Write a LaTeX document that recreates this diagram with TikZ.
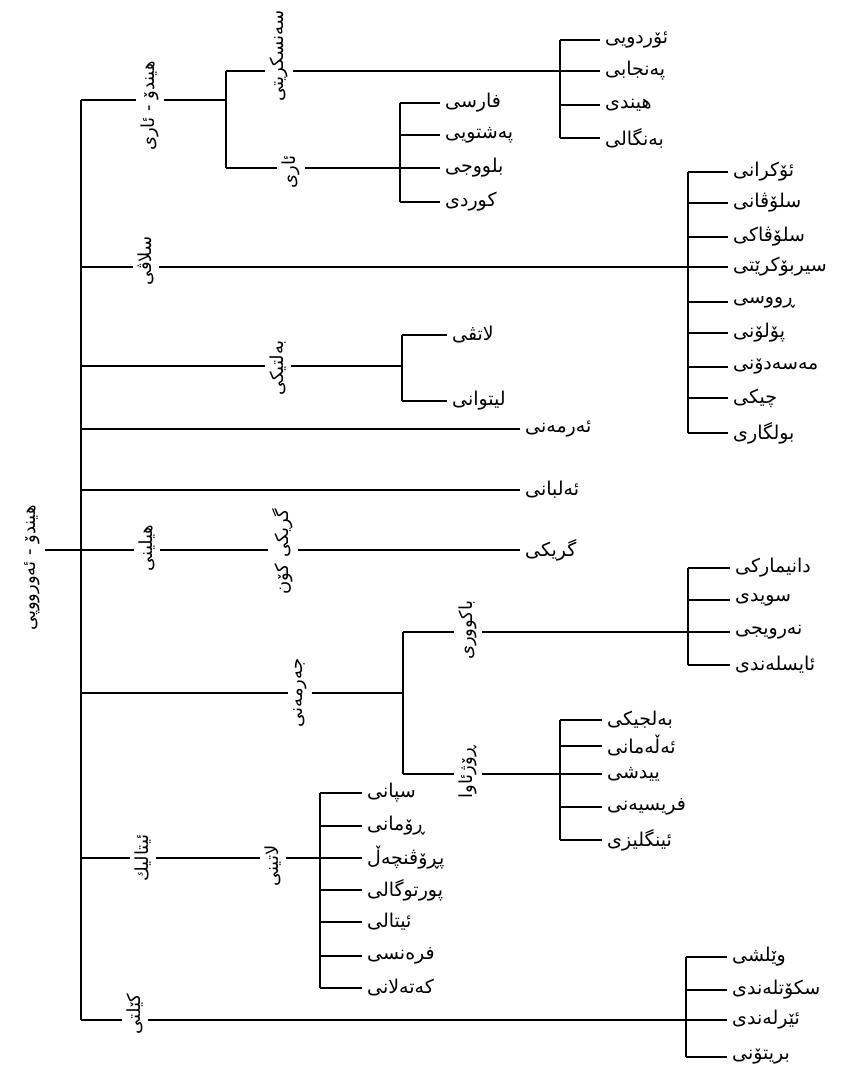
\documentclass[tikz,border=0pt]{standalone}
\usepackage{fontspec}
\newfontfamily\ar[Script=Arabic]{DejaVu Sans}
\TeXXeTstate=1
\newcommand{\RL}[1]{\beginR #1\endR}
\begin{document}
\begin{tikzpicture}[x=1pt,y=-1pt,
  ln/.style={line width=1.6pt},
  leaf/.style={anchor=west, inner xsep=5pt, inner ysep=1pt, font=\ar\fontsize{19}{21}\selectfont},
  grp/.style={rotate=90, inner xsep=0pt, inner ysep=5pt, font=\ar\fontsize{18}{20}\selectfont}]
\useasboundingbox (0,0) rectangle (847,1076);

% trunk
\coordinate (t1) at (81,100);
\coordinate (t2) at (81,267);
\coordinate (t3) at (81,366);
\coordinate (t4) at (81,429);
\coordinate (t5) at (81,490);
\coordinate (t6) at (81,550);
\coordinate (t7) at (81,693);
\coordinate (t8) at (81,858);
\coordinate (t9) at (81,1020);
\draw[ln] (t1) -- (t9);

% root
\node[grp] (root) at (32,568) {\RL{هیندۆ - ئەورووپی}};
\draw[ln] (root.south |- t6) -- (t6);

% ---------- Indo-Aryan ----------
\node[grp] (IA) at (150,106) {\RL{هیندۆ - ئاری}};
\coordinate (v1) at (226,100);
\coordinate (v1a) at (226,71);
\coordinate (v1b) at (226,168);
\draw[ln] (t1) -- (IA.north |- t1);
\draw[ln] (IA.south |- t1) -- (v1);
\draw[ln] (v1a) -- (v1b);

\foreach \y/\t [count=\i] in {40/ئۆردویی,71/پەنجابی,105/هیندی,138/بەنگالی}{
  \coordinate (skb\i) at (560,\y);
  \node[leaf] (sk\i) at (600,\y) {\RL{\t}};
  \draw[ln] (skb\i) -- (sk\i.west);
}
\draw[ln] (skb1) -- (skb4);
\node[grp] (SK) at (279,56) {\RL{سەنسکریتی}};
\draw[ln] (v1a) -- (SK.north |- v1a);
\draw[ln] (SK.south |- v1a) -- (skb2);

\foreach \y/\t [count=\i] in {103/فارسی,135/پەشتویی,168/بلووجی,202/کوردی}{
  \coordinate (arb\i) at (400,\y);
  \node[leaf] (ar\i) at (440,\y) {\RL{\t}};
  \draw[ln] (arb\i) -- (ar\i.west);
}
\draw[ln] (arb1) -- (arb4);
\node[grp] (AR) at (291,172) {\RL{ئاری}};
\draw[ln] (v1b) -- (AR.north |- v1b);
\draw[ln] (AR.south |- v1b) -- (arb3);

% ---------- Slavic ----------
\foreach \y/\t [count=\i] in {172/ئۆکرانی,203/سلۆڤانی,237/سلۆڤاکی,267/سیربۆکرێتی,302/ڕووسی,333/پۆلۆنی,367/مەسەدۆنی,398/چیکی,433/بولگاری}{
  \coordinate (slb\i) at (688,\y);
  \node[leaf] (sl\i) at (728,\y) {\RL{\t}};
  \draw[ln] (slb\i) -- (sl\i.west);
}
\draw[ln] (slb1) -- (slb9);
\node[grp] (SL) at (146,261) {\RL{سلاڤی}};
\draw[ln] (t2) -- (SL.north |- t2);
\draw[ln] (SL.south |- t2) -- (slb4);

% ---------- Baltic ----------
\foreach \y/\t [count=\i] in {335/لاتڤی,401/لیتوانی}{
  \coordinate (btb\i) at (402,\y);
  \node[leaf] (bt\i) at (447,\y) {\RL{\t}};
  \draw[ln] (btb\i) -- (bt\i.west);
}
\draw[ln] (btb1) -- (btb2);
\coordinate (btm) at (402,366);
\node[grp] (BT) at (278,368) {\RL{بەلتیکی}};
\draw[ln] (t3) -- (BT.north |- t3);
\draw[ln] (BT.south |- t3) -- (btm);

% ---------- Armenian, Albanian ----------
\node[leaf] (arm) at (520,429) {\RL{ئەرمەنی}};
\draw[ln] (t4) -- (arm.west);
\node[leaf] (alb) at (520,490) {\RL{ئەلبانی}};
\draw[ln] (t5) -- (alb.west);

% ---------- Hellenic ----------
\node[grp] (HE) at (147,548) {\RL{هیلینی}};
\node[grp] (OG) at (283,552) {\RL{گریکی کۆن}};
\node[leaf] (gr) at (520,550) {\RL{گریکی}};
\draw[ln] (t6) -- (HE.north |- t6);
\draw[ln] (HE.south |- t6) -- (OG.north |- t6);
\draw[ln] (OG.south |- t6) -- (gr.west);

% ---------- Germanic ----------
\coordinate (gm) at (403,693);
\coordinate (gma) at (403,632);
\coordinate (gmb) at (403,774);
\draw[ln] (gma) -- (gmb);
\node[grp] (GE) at (300,693) {\RL{جەرمەنی}};
\draw[ln] (t7) -- (GE.north |- t7);
\draw[ln] (GE.south |- t7) -- (gm);

\foreach \y/\t [count=\i] in {568/دانیمارکی,600/سویدی,632/نەرویجی,665/ئایسلەندی}{
  \coordinate (nob\i) at (688,\y);
  \node[leaf] (no\i) at (730,\y) {\RL{\t}};
  \draw[ln] (nob\i) -- (no\i.west);
}
\draw[ln] (nob1) -- (nob4);
\node[grp] (NO) at (468,630) {\RL{باکووری}};
\draw[ln] (gma) -- (NO.north |- gma);
\draw[ln] (NO.south |- gma) -- (nob3);

\foreach \y/\t [count=\i] in {720/بەلجیکی,746/ئەڵەمانی,774/ییدشی,807/فریسیەنی,840/ئینگلیزی}{
  \coordinate (wgb\i) at (560,\y);
  \node[leaf] (wg\i) at (602,\y) {\RL{\t}};
  \draw[ln] (wgb\i) -- (wg\i.west);
}
\draw[ln] (wgb1) -- (wgb5);
\node[grp] (WG) at (468,772) {\RL{ڕۆژئاوا}};
\draw[ln] (gmb) -- (WG.north |- gmb);
\draw[ln] (WG.south |- gmb) -- (wgb3);

% ---------- Italic ----------
\foreach \y/\t [count=\i] in {793/سپانی,826/ڕۆمانی,858/پڕۆڤنچەڵ,890/پورتوگالی,922/ئیتالی,956/فرەنسی,988/کەتەلانی}{
  \coordinate (itb\i) at (320,\y);
  \node[leaf] (it\i) at (362,\y) {\RL{\t}};
  \draw[ln] (itb\i) -- (it\i.west);
}
\draw[ln] (itb1) -- (itb7);
\node[grp] (IT) at (143,858) {\RL{ئیتالیك}};
\node[grp] (LA) at (273,866) {\RL{لاتینی}};
\draw[ln] (t8) -- (IT.north |- t8);
\draw[ln] (IT.south |- t8) -- (LA.north |- t8);
\draw[ln] (LA.south |- t8) -- (itb3);

% ---------- Celtic ----------
\foreach \y/\t [count=\i] in {957/وێلشی,990/سکۆتلەندی,1020/ئێرلەندی,1057/بریتۆنی}{
  \coordinate (ceb\i) at (686,\y);
  \node[leaf] (ce\i) at (727,\y) {\RL{\t}};
  \draw[ln] (ceb\i) -- (ce\i.west);
}
\draw[ln] (ceb1) -- (ceb4);
\node[grp] (CE) at (135,1014) {\RL{کێلتی}};
\draw[ln] (t9) -- (CE.north |- t9);
\draw[ln] (CE.south |- t9) -- (ceb3);
\end{tikzpicture}
\end{document}
